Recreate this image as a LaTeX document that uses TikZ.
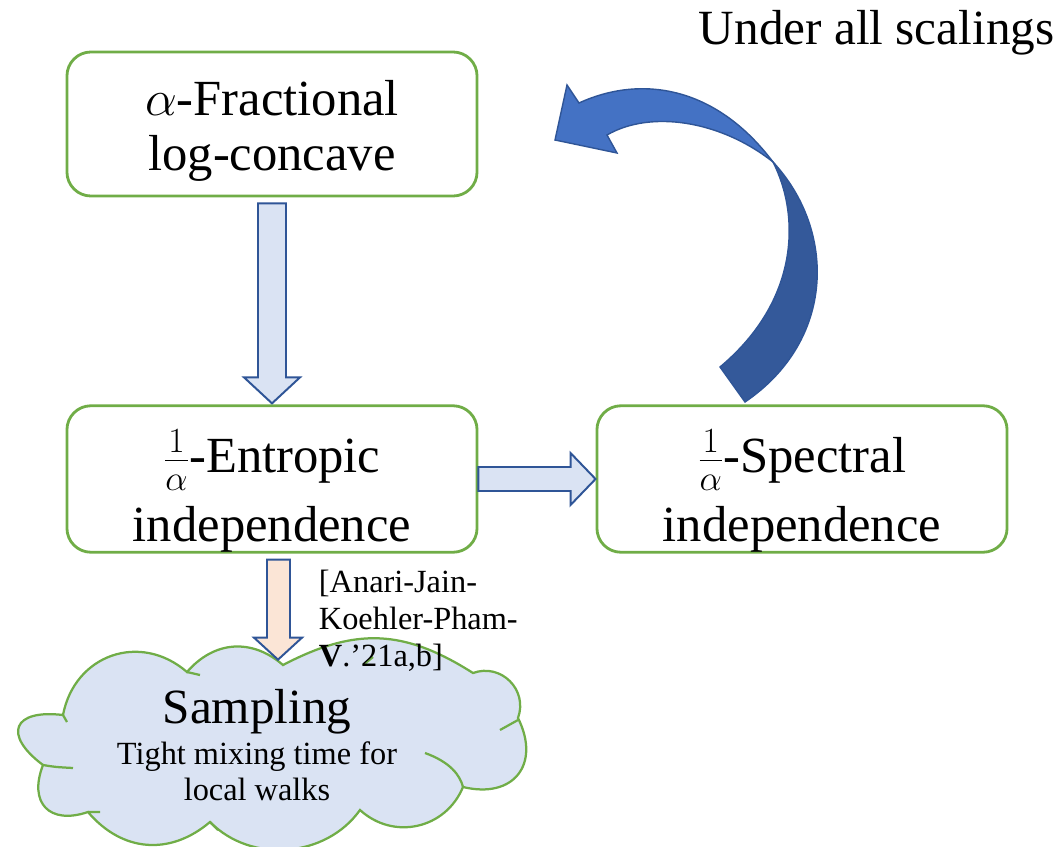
\RequirePackage{fix-cm}
\documentclass[tikz,border=0pt]{standalone}
\usepackage{fontspec}
\setmainfont{Liberation Serif}
\usetikzlibrary{calc}

\definecolor{boxgreen}{HTML}{70AD47}
\definecolor{arrline}{HTML}{2F5597}
\definecolor{arrfill}{HTML}{DAE3F3}
\definecolor{peach}{HTML}{FBE5D6}
\definecolor{headblue}{HTML}{4472C4}
\definecolor{bodyblue}{HTML}{34599A}

\begin{document}
\begin{tikzpicture}[x=0.025cm,y=-0.025cm,
  propbox/.style={draw=boxgreen,line width=2pt,rounded corners=0.6cm,inner sep=0pt,minimum width=10.25cm,minimum height=3.6cm,align=center,font=\fontsize{36}{39}\selectfont},
  blockarr/.style={draw=arrline,line width=1.4pt,fill=arrfill,line join=miter},
  cloudline/.style={draw=boxgreen,line width=1.6pt}]
\useasboundingbox (0,0) rectangle (1064,847);
\node[propbox] (frac) at (272,124) {\rule{0pt}{35pt}$\alpha$-Fractional\\log-concave};
\node[propbox] (ent) at (272,479) {\rule{0pt}{47.5pt}$\frac{1}{\alpha}$-Entropic\\[10pt]independence};
\node[propbox] (spec) at (802,479) {\rule{0pt}{47.5pt}$\frac{1}{\alpha}$-Spectral\\[10pt]independence};
% the cloud
\filldraw[cloudline,fill=arrfill] (63,715) to[bend left=60,looseness=1.2] (187,672) to[bend left=45,looseness=1.1] (283,665)
  to[bend left=30,looseness=1.1] (473,673) to[bend left=65,looseness=1.2] (518,718) to[bend left=65,looseness=1.5] (463,787)
  to[bend left=55,looseness=1.1] (360,810) to[bend left=50] (210,822) to[bend left=45,looseness=1.1] (88,812)
  to[bend left=65,looseness=1.6] (43,765) to[bend left=75,looseness=2.4] (63,715) -- cycle;
\draw[cloudline] (63,715) -- (67,722) (187,672) -- (200,675) (43,765) .. controls (55,767) .. (73,768)
  (88,812) -- (100,812) (210,822) -- (218,830) (363,665) -- (373,657) (518,720) -- (500,730)
  (425,753) .. controls (450,762) and (460,775) .. (463,787);
\node[align=center,font=\fontsize{23}{26}\selectfont] (samp) at (257,745)
  {{\fontsize{35}{40}\selectfont Sampling}\\[3pt]Tight mixing time for\\local walks};
\node[anchor=north west,align=left,font=\fontsize{23}{26.5}\selectfont] (cite) at ($(ent.south)+(42,11)$)
  {[Anari-Jain-\\Koehler-Pham-\\\textbf{V}.’21a,b]};
\node[anchor=base west,font=\fontsize{35}{40}\selectfont] (scal) at (694,45) {Under all scalings};
% block arrows between the boxes
\draw[blockarr] ($(frac.south)+(-14,6)$) -- ($(frac.south)+(14,6)$) -- ($(ent.north)+(14,-27)$)
  -- ($(ent.north)+(28,-27)$) -- ($(ent.north)+(0,-1)$) -- ($(ent.north)+(-28,-27)$)
  -- ($(ent.north)+(-14,-27)$) -- cycle;
\draw[blockarr] ($(ent.east)+(0,-12)$) -- ($(spec.west)+(-25,-12)$) -- ($(spec.west)+(-25,-26)$)
  -- (spec.west) -- ($(spec.west)+(-25,26)$) -- ($(spec.west)+(-25,12)$)
  -- ($(ent.east)+(0,12)$) -- cycle;
\draw[blockarr,fill=peach] ($(ent.south)+(-5,6)$) -- ($(ent.south)+(18,6)$) -- ($(ent.south)+(18,84)$)
  -- ($(ent.south)+(30,84)$) -- ($(ent.south)+(6,106)$) -- ($(ent.south)+(-18,84)$)
  -- ($(ent.south)+(-5,84)$) -- cycle;
% curved arrow back to the top box
\filldraw[fill=bodyblue,draw=arrline,line width=1pt] (720,367) .. controls (800,300) and (800,215) .. (773,162)
  .. controls (836,230) and (836,340) .. (745,402) -- cycle;
\filldraw[fill=headblue,draw=arrline,line width=1pt] (773,162) .. controls (720,120) and (650,110) .. (607,135)
  -- (617,153) -- (555,140) -- (567,85) -- (579,103)
  .. controls (640,75) and (715,85) .. (773,162) -- cycle;
\end{tikzpicture}
\end{document}
